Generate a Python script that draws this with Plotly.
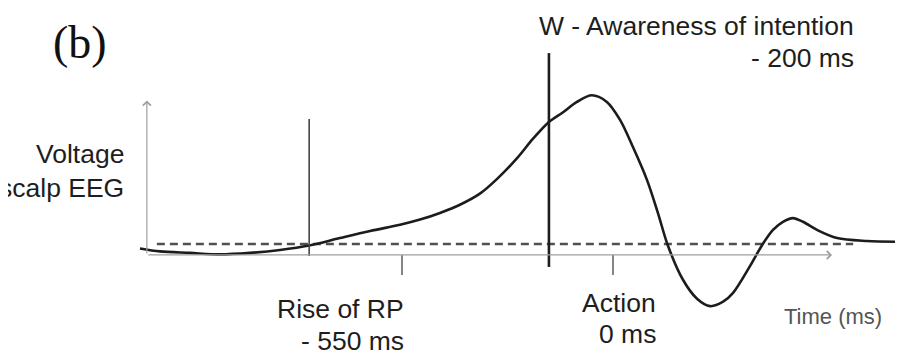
import plotly.graph_objects as go

# ---- data (time in ms relative to action, voltage in arbitrary units) ----
time_ms = [-1233, -1181, -1103, -1024, -946, -868, -792, -712, -633, -555,
           -503, -451, -399, -347, -302, -250, -209, -169, -130, -94,
           -55, -16, 18, 52, 89, 117, 143, 182, 219, 253,
           287, 313, 357, 388, 417, 443, 469, 495, 532, 584,
           662, 735]
voltage = [-0.3, -0.5, -0.6, -0.7, -0.6, -0.4, -0.1, 0.4, 0.88, 1.3,
           1.65, 2.1, 2.65, 3.4, 4.4, 5.8, 7.1, 8.2, 8.9, 9.6,
           10.05, 9.6, 8.4, 6.55, 4.3, 2.1, -0.1, -2.4, -3.7, -4.2,
           -3.9, -3.3, -1.5, -0.1, 0.95, 1.5, 1.75, 1.5, 0.95, 0.4,
           0.2, 0.15]

baseline_level = 0.0
rp_line_ms = -792          # rise of readiness potential marker
w_line_ms = -167           # awareness of intention marker
tick_ms = [-550, 0]        # axis ticks
axis_origin = (-1215, -0.74)
axis_x_end = 571
axis_y_end = 9.7
baseline_span = (-1189, 626)

tick_labels = [("Rise of RP", "- 550 ms"), ("Action", "0 ms")]
w_label = ("W - Awareness of intention", "- 200 ms")
y_label = ("Voltage", "scalp EEG")
x_label = "Time (ms)"
panel_label = "(b)"

# ---- figure (page body has an 8px margin, so the figure is shifted) ----
OFF = 8
W, H = 908 - OFF, 361 - OFF
PX_PER_MS = 211 / 550
ZERO_PX = 613
PX_PER_V = 14.8
BASE_PY = 244
x_range = [(OFF - ZERO_PX) / PX_PER_MS, (908 - ZERO_PX) / PX_PER_MS]
y_range = [(BASE_PY - 361) / PX_PER_V, (BASE_PY - OFF) / PX_PER_V]


def px_x(px):
    return (px - OFF) / W


def px_y(py):
    return 1 - (py - OFF) / H


fig = go.Figure()

# dashed baseline
fig.add_trace(go.Scatter(
    x=list(baseline_span), y=[baseline_level, baseline_level], mode="lines",
    line=dict(color="#505050", width=2.6, dash="8px,5px"), hoverinfo="skip"))

# EEG curve
fig.add_trace(go.Scatter(
    x=time_ms, y=voltage, mode="lines",
    line=dict(color="#1c1c1c", width=2.6, shape="spline", smoothing=0.9),
    hoverinfo="skip"))

shapes = []
# marker lines
shapes.append(dict(type="line", xref="x", yref="y", x0=rp_line_ms, x1=rp_line_ms,
                   y0=-0.81, y1=8.45, line=dict(color="#444444", width=1.6)))
shapes.append(dict(type="line", xref="x", yref="y", x0=w_line_ms, x1=w_line_ms,
                   y0=-1.55, y1=12.9, line=dict(color="#1c1c1c", width=2.6)))
# ticks
for t in tick_ms:
    shapes.append(dict(type="line", xref="x", yref="y", x0=t, x1=t,
                       y0=axis_origin[1], y1=-2.09,
                       line=dict(color="#666666", width=1.6)))

annotations = []
# axes with arrowheads
annotations.append(dict(x=axis_x_end, y=axis_origin[1], ax=axis_origin[0], ay=axis_origin[1],
                        xref="x", yref="y", axref="x", ayref="y", text="",
                        showarrow=True, arrowhead=4, arrowsize=1.3, arrowwidth=1.2,
                        arrowcolor="#a0a0a0"))
annotations.append(dict(x=axis_origin[0], y=axis_y_end, ax=axis_origin[0], ay=axis_origin[1],
                        xref="x", yref="y", axref="x", ayref="y", text="",
                        showarrow=True, arrowhead=4, arrowsize=1.3, arrowwidth=1.2,
                        arrowcolor="#a0a0a0"))

font = dict(family="Arial, Liberation Sans, sans-serif", size=26.5, color="#1e1e1e")


def label(text, right_px, cy_px, f=font):
    annotations.append(dict(text=text, x=px_x(right_px), y=px_y(cy_px),
                            xref="paper", yref="paper", xanchor="right", yanchor="middle",
                            showarrow=False, font=f))


label(w_label[0], 856, 26)
label(w_label[1], 856, 58)
label(y_label[0], 126, 154)
label(y_label[1], 126, 188)
label(tick_labels[0][0], 406, 309)
label(tick_labels[0][1], 406, 341)
label(tick_labels[1][0], 658, 303)
label(tick_labels[1][1], 658, 334)
label(x_label, 884, 316, dict(family="Arial, Liberation Sans, sans-serif", size=22, color="#555555"))
annotations.append(dict(text=panel_label, x=px_x(80), y=px_y(43), xref="paper", yref="paper",
                        xanchor="center", yanchor="middle", showarrow=False,
                        font=dict(family="Liberation Serif, Times New Roman, serif",
                                  size=46, color="#111111")))

fig.update_layout(
    width=W, height=H, margin=dict(l=0, r=0, t=0, b=0),
    paper_bgcolor="white", plot_bgcolor="white", showlegend=False,
    xaxis=dict(range=x_range, visible=False, fixedrange=True),
    yaxis=dict(range=y_range, visible=False, fixedrange=True),
    shapes=shapes, annotations=annotations,
)

fig.write_html("out.html")
